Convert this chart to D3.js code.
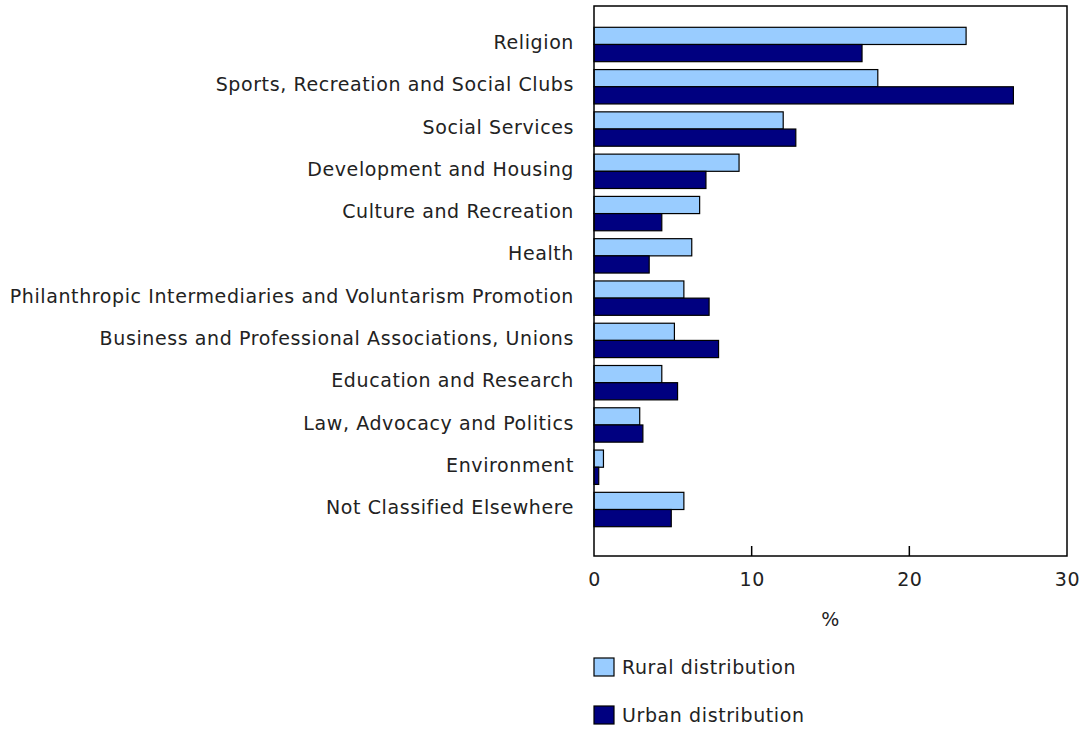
<!DOCTYPE html>
<html>
<head>
<meta charset="utf-8">
<script src="https://cdn.jsdelivr.net/npm/d3@7"></script>
<style>
  html, body { margin: 0; padding: 0; background: #fff; }
  svg { display: block; font-family: "DejaVu Sans", Verdana, sans-serif; }
  .lbl { font-size: 19px; letter-spacing: 0.6px; fill: #222; font-family: "DejaVu Sans", Verdana, sans-serif; }
</style>
</head>
<body>
<svg id="chart" width="1080" height="730"></svg>
<script>
const categories = [
  "Religion",
  "Sports, Recreation and Social Clubs",
  "Social Services",
  "Development and Housing",
  "Culture and Recreation",
  "Health",
  "Philanthropic Intermediaries and Voluntarism Promotion",
  "Business and Professional Associations, Unions",
  "Education and Research",
  "Law, Advocacy and Politics",
  "Environment",
  "Not Classified Elsewhere"
];
const rural = [23.6, 18.0, 12.0, 9.2, 6.7, 6.2, 5.7, 5.1, 4.3, 2.9, 0.6, 5.7];
const urban = [17.0, 26.6, 12.8, 7.1, 4.3, 3.5, 7.3, 7.9, 5.3, 3.1, 0.3, 4.9];
const seriesNames = ["Rural distribution", "Urban distribution"];
const seriesColors = ["#99CCFF", "#000080"];
const xTicks = [0, 10, 20, 30];
const xTitle = "%";

(function () {
const svg = d3.select("#chart");
const pL = 594, pR = 1067, pT = 6, pB = 556;

const x = d3.scaleLinear().domain([0, 30]).range([pL, pR]);
const y = d3.scaleBand().domain(categories).range([23.35, 530.65])
  .paddingInner(0.187).paddingOuter(0.0935);
const ySub = d3.scaleBand().domain([0, 1]).range([0, y.bandwidth()]);

const data = categories.map((c, i) => ({ c, vals: [rural[i], urban[i]] }));

const g = svg.append("g");
data.forEach(d => {
  d.vals.forEach((v, s) => {
    g.append("rect")
      .attr("x", x(0))
      .attr("y", y(d.c) + ySub(s))
      .attr("width", x(v) - x(0))
      .attr("height", ySub.bandwidth())
      .attr("fill", seriesColors[s])
      .attr("stroke", "#000")
      .attr("stroke-width", 1.2);
  });
});

svg.append("rect")
  .attr("x", pL).attr("y", pT)
  .attr("width", pR - pL).attr("height", pB - pT)
  .attr("fill", "none").attr("stroke", "#000").attr("stroke-width", 1.5);

const xAxis = d3.axisBottom(x).tickValues(xTicks).tickSize(0).tickPadding(17).tickFormat(d3.format("d"));
const ax = svg.append("g").attr("transform", `translate(0,${pB})`).call(xAxis);
ax.select(".domain").remove();
ax.selectAll("text").attr("class", "lbl").attr("font-size", null).attr("font-family", null).attr("fill", null);
svg.append("g").selectAll("line").data(xTicks.slice(1, -1)).join("line")
  .attr("x1", d => x(d)).attr("x2", d => x(d))
  .attr("y1", pB).attr("y2", pB - 10)
  .attr("stroke", "#000").attr("stroke-width", 1.5);

svg.append("text").attr("class", "lbl").attr("x", (pL + pR) / 2).attr("y", 626)
  .attr("text-anchor", "middle").text(xTitle);

const yAxis = d3.axisLeft(y).tickSize(0).tickPadding(20);
const ay = svg.append("g").attr("transform", `translate(${pL},0)`).call(yAxis);
ay.select(".domain").remove();
ay.selectAll("text").attr("class", "lbl").attr("font-size", null).attr("font-family", null).attr("fill", null)
  .attr("dy", "0.24em");

const legY = [667, 715];
seriesNames.forEach((n, i) => {
  svg.append("rect").attr("x", 594).attr("y", legY[i] - 9)
    .attr("width", 20).attr("height", 18)
    .attr("fill", seriesColors[i]).attr("stroke", "#000").attr("stroke-width", 1.2);
  svg.append("text").attr("class", "lbl").attr("x", 622).attr("y", legY[i] + 7)
    .text(n);
});
})();
</script>
</body>
</html>
